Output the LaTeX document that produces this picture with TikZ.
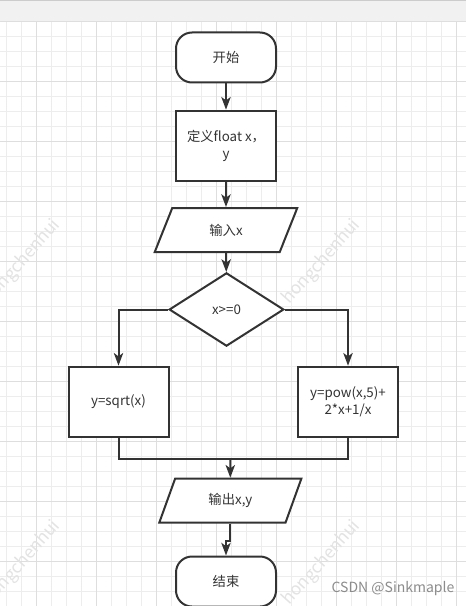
\documentclass[tikz,border=0pt]{standalone}
\usepackage{xcolor}
\usepackage{fontspec}
\setmainfont{Noto Sans CJK SC}
\usepackage{tikz}
\usetikzlibrary{shapes.geometric,arrows.meta}

\definecolor{inkgray}{HTML}{333333}
\definecolor{minorgrid}{HTML}{EDEDED}
\definecolor{majorgrid}{HTML}{DEDEDE}
\definecolor{bandgray}{HTML}{F1F1F1}

\begin{document}
\begin{tikzpicture}[x=0.75pt,y=-0.75pt,
    every node/.style={font=\fontsize{10}{13}\selectfont,text=inkgray},
    flowbox/.style={draw=inkgray,line width=1.5pt,fill=white,align=center},
    terminal/.style={flowbox,rectangle,rounded corners=12pt,minimum width=75pt,minimum height=37.5pt},
    process/.style={flowbox,rectangle,minimum width=75pt,minimum height=52.5pt},
    inout/.style={flowbox,trapezium,trapezium left angle=72,trapezium right angle=108,trapezium stretches=true,minimum width=107pt,minimum height=33pt},
    decision/.style={flowbox,diamond,minimum width=86pt,minimum height=55pt,inner sep=0pt},
    flowline/.style={draw=inkgray,line width=1.5pt},
    flowarrow/.style={flowline,-{Stealth[length=9.5pt,width=7pt,inset=2.5pt]}},
    wmark/.style={text=black!11,rotate=48,font=\fontsize{13}{13}\selectfont},
    credit/.style={text=black!45,font=\fontsize{10.5}{12}\selectfont}]
    \useasboundingbox (0,0) rectangle (466,606);
    \fill[white] (0,0) rectangle (466,606);
    \foreach \gx in {6.7,21.7,...,466} \draw[minorgrid,line width=0.75pt] (\gx,21.7)--(\gx,606);
    \foreach \gy in {36.7,51.7,...,606} \draw[minorgrid,line width=0.75pt] (0,\gy)--(466,\gy);
    \foreach \gx in {36.7,96.7,...,466} \draw[majorgrid,line width=0.75pt] (\gx,21.7)--(\gx,606);
    \foreach \gy in {81.7,141.7,...,606} \draw[majorgrid,line width=0.75pt] (0,\gy)--(466,\gy);
    \fill[bandgray] (0,0) rectangle (466,21.7);
    \draw[black!20,line width=0.75pt] (0,0.5)--(466,0.5);
    \draw[majorgrid,line width=0.75pt] (0,21.7)--(466,21.7);

    \node[wmark] (wm1) at (22,262) {hongchenhui};
    \node[wmark] (wm2) at (322,262) {hongchenhui};
    \node[wmark] (wm3) at (22,563) {hongchenhui};
    \node[wmark] (wm4) at (322,563) {hongchenhui};

    \node[terminal] (start) at (226,57.5) {开始};
    \node[process] (define) at (226,145.7) {定义float x，\\y};
    \node[inout] (input) at (226,230) {输入x};
    \node[decision] (test) at (226.5,309.5) {x>=0};
    \node[process] (left) at (118.5,401.7) {y=sqrt(x)};
    \node[process] (right) at (348,401.7) {y=pow(x,5)+\\2*x+1/x};
    \node[inout] (output) at (230.3,500.7) {输出x,y};
    \node[terminal] (stop) at (226,581.5) {结束};
    \coordinate (join) at (230.3,459);

    \draw[flowarrow] (start)--(define);
    \draw[flowarrow] (define)--(input);
    \draw[flowarrow] (input)--(test);
    \draw[flowarrow] (test.west)-|(left.north);
    \draw[flowarrow] (test.east)-|(right.north);
    \draw[flowline] (left.south)|-(join)-|(right.south);
    \draw[flowarrow] (join)--(output.north);
    \draw[flowarrow] (output.south)--++(0,17)-|(stop.north);

    \node[credit] (csdn) at (393,589) {CSDN @Sinkmaple};
\end{tikzpicture}
\end{document}
